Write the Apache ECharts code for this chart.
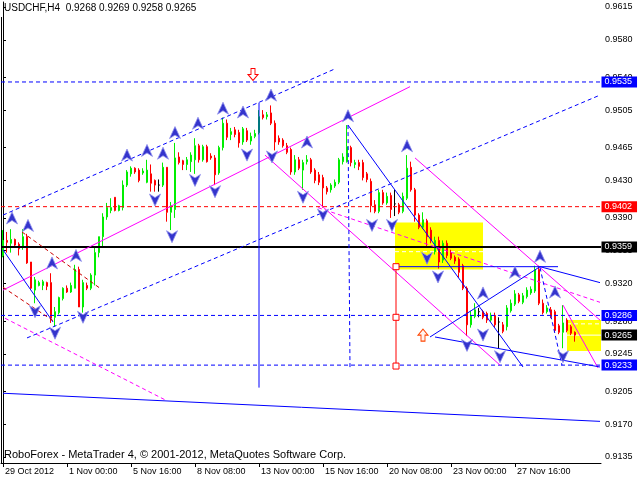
<!DOCTYPE html>
<html><head><meta charset="utf-8">
<script src="https://cdn.jsdelivr.net/npm/echarts@6/dist/echarts.min.js"></script>
<style>html,body{margin:0;padding:0;background:#fff}#c{width:640px;height:480px}</style>
</head><body><div id="c"></div>
<script>
const symbolName = 'USDCHF', timeframe = 'H4';
const copyrightText = 'RoboForex - MetaTrader 4, \u00a9 2001-2012, MetaQuotes Software Corp.';

const opens = [0.9350,0.9366,0.9363,0.9367,0.9362,0.9359,0.9370,0.9343,0.9313,0.9318,0.9318,0.9321,0.9321,0.9284,0.9289,0.9304,0.9315,0.9311,0.9315,0.9335,
0.9295,0.9318,0.9315,0.9329,0.9353,0.9370,0.9391,0.9398,0.9412,0.9398,0.9401,0.9425,0.9437,0.9443,0.9441,0.9438,0.9428,0.9437,0.9430,0.9425,
0.9425,0.9444,0.9396,0.9399,0.9455,0.9451,0.9447,0.9450,0.9452,0.9467,0.9452,0.9466,0.9456,0.9454,0.9438,0.9465,0.9491,0.9479,0.9484,0.9481,
0.9471,0.9483,0.9472,0.9477,0.9481,0.9500,0.9498,0.9502,0.9491,0.9475,0.9473,0.9467,0.9463,0.9439,0.9452,0.9441,0.9450,0.9452,0.9441,0.9436,
0.9433,0.9422,0.9420,0.9424,0.9428,0.9450,0.9450,0.9465,0.9447,0.9449,0.9449,0.9437,0.9429,0.9404,0.9397,0.9417,0.9406,0.9414,0.9405,0.9404,
0.9397,0.9411,0.9444,0.9420,0.9393,0.9380,0.9387,0.9377,0.9354,0.9366,0.9345,0.9363,0.9353,0.9348,0.9346,0.9339,0.9315,0.9276,0.9285,0.9290,
0.9290,0.9288,0.9281,0.9286,0.9279,0.9276,0.9274,0.9291,0.9298,0.9308,0.9300,0.9306,0.9310,0.9312,0.9335,0.9299,0.9290,0.9292,0.9290,0.9275,
0.9268,0.9281,0.9274,0.9268];
const closes = [0.9366,0.9364,0.9367,0.9361,0.9357,0.9370,0.9342,0.9315,0.9324,0.9321,0.9322,0.9317,0.9283,0.9290,0.9305,0.9315,0.9311,0.9318,0.9335,0.9295,
0.9321,0.9315,0.9329,0.9353,0.9370,0.9391,0.9401,0.9401,0.9398,0.9403,0.9425,0.9439,0.9443,0.9439,0.9430,0.9440,0.9441,0.9427,0.9425,0.9425,
0.9444,0.9396,0.9403,0.9454,0.9449,0.9447,0.9452,0.9457,0.9467,0.9452,0.9466,0.9450,0.9454,0.9436,0.9465,0.9491,0.9476,0.9482,0.9479,0.9470,
0.9485,0.9473,0.9477,0.9480,0.9498,0.9497,0.9500,0.9491,0.9471,0.9471,0.9467,0.9460,0.9439,0.9452,0.9443,0.9449,0.9452,0.9439,0.9430,0.9428,
0.9422,0.9418,0.9425,0.9428,0.9452,0.9455,0.9466,0.9449,0.9449,0.9445,0.9433,0.9431,0.9403,0.9397,0.9417,0.9406,0.9413,0.9399,0.9405,0.9396,
0.9413,0.9443,0.9420,0.9393,0.9380,0.9388,0.9370,0.9366,0.9366,0.9343,0.9363,0.9350,0.9347,0.9344,0.9332,0.9315,0.9276,0.9286,0.9292,0.9290,
0.9284,0.9281,0.9286,0.9276,0.9279,0.9269,0.9294,0.9299,0.9309,0.9301,0.9307,0.9313,0.9314,0.9335,0.9299,0.9289,0.9294,0.9285,0.9270,0.9268,
0.9278,0.9270,0.9267,0.9265];
const lows = [0.9348,0.9353,0.9353,0.9359,0.9350,0.9356,0.9341,0.9313,0.9299,0.9317,0.9313,0.9313,0.9278,0.9274,0.9287,0.9302,0.9310,0.9310,0.9315,0.9295,
0.9289,0.9313,0.9313,0.9318,0.9348,0.9359,0.9388,0.9395,0.9397,0.9397,0.9398,0.9423,0.9434,0.9437,0.9428,0.9436,0.9427,0.9418,0.9418,0.9418,
0.9423,0.9386,0.9377,0.9390,0.9447,0.9441,0.9441,0.9439,0.9437,0.9449,0.9450,0.9449,0.9452,0.9425,0.9436,0.9462,0.9473,0.9473,0.9476,0.9465,
0.9468,0.9471,0.9468,0.9475,0.9479,0.9495,0.9495,0.9489,0.9462,0.9468,0.9465,0.9458,0.9436,0.9436,0.9441,0.9420,0.9447,0.9437,0.9427,0.9425,
0.9401,0.9415,0.9417,0.9422,0.9426,0.9447,0.9449,0.9445,0.9443,0.9441,0.9430,0.9428,0.9396,0.9395,0.9395,0.9404,0.9404,0.9390,0.9392,0.9394,
0.9395,0.9409,0.9418,0.9386,0.9378,0.9378,0.9358,0.9363,0.9351,0.9336,0.9342,0.9347,0.9345,0.9341,0.9326,0.9313,0.9264,0.9273,0.9283,0.9284,
0.9282,0.9278,0.9279,0.9273,0.9251,0.9267,0.9270,0.9289,0.9296,0.9299,0.9298,0.9304,0.9308,0.9310,0.9297,0.9287,0.9288,0.9283,0.9268,0.9266,
0.9251,0.9268,0.9265,0.9258];
const highs = [0.9377,0.9375,0.9378,0.9368,0.9364,0.9378,0.9373,0.9343,0.9327,0.9323,0.9324,0.9322,0.9331,0.9295,0.9306,0.9316,0.9318,0.9321,0.9340,0.9338,
0.9324,0.9321,0.9331,0.9359,0.9370,0.9395,0.9406,0.9411,0.9412,0.9404,0.9430,0.9441,0.9445,0.9444,0.9443,0.9443,0.9452,0.9447,0.9431,0.9431,
0.9449,0.9444,0.9407,0.9470,0.9460,0.9452,0.9455,0.9460,0.9475,0.9469,0.9468,0.9468,0.9459,0.9457,0.9467,0.9497,0.9495,0.9486,0.9487,0.9484,
0.9487,0.9486,0.9481,0.9484,0.9505,0.9505,0.9503,0.9510,0.9494,0.9478,0.9475,0.9470,0.9465,0.9457,0.9455,0.9452,0.9457,0.9454,0.9443,0.9439,
0.9436,0.9424,0.9427,0.9431,0.9454,0.9459,0.9489,0.9467,0.9452,0.9452,0.9452,0.9439,0.9432,0.9409,0.9420,0.9420,0.9417,0.9417,0.9420,0.9406,
0.9417,0.9457,0.9450,0.9422,0.9395,0.9396,0.9389,0.9380,0.9370,0.9370,0.9366,0.9366,0.9356,0.9350,0.9348,0.9341,0.9317,0.9291,0.9299,0.9294,
0.9292,0.9290,0.9289,0.9289,0.9284,0.9279,0.9297,0.9303,0.9313,0.9310,0.9310,0.9316,0.9317,0.9339,0.9339,0.9303,0.9297,0.9295,0.9292,0.9277,
0.9297,0.9283,0.9276,0.9269];

const yTickValues = [0.9615,0.9580,0.9540,0.9505,0.9465,0.9430,0.9390,0.9355,0.9320,0.9280,0.9245,0.9205,0.9170,0.9135];
const xTickLabels = ['29 Oct 2012','1 Nov 00:00','5 Nov 16:00','8 Nov 08:00','13 Nov 00:00','15 Nov 16:00','20 Nov 08:00','23 Nov 00:00','27 Nov 16:00'];
const xTickEvery = 16;
const slotCount = 150;

const levelPrices = [0.9535, 0.9402, 0.9359, 0.9286, 0.9233];
const levelStyles = [
  {line:'#0000ff', type:[4,3], w:1, bg:'#0000ff'},
  {line:'#ff0000', type:[4,3], w:1, bg:'#ff0000'},
  {line:'#000000', type:'solid', w:2, bg:'#000000'},
  {line:'#0000ff', type:[4,3], w:1, bg:'#0000ff'},
  {line:'#0000ff', type:[4,3], w:1, bg:'#0000ff'}
];

// trend lines [bar1, price1, bar2, price2]
const magentaSolid = [[0,0.9313,101.75,0.9530],[65.5,0.9457,124.25,0.9233],[103,0.9454,149.25,0.9281],[140,0.9297,148.75,0.9230]];
const magentaDashed = [[0.5,0.9283,40.5,0.9196],[78.75,0.9401,149.25,0.9300]];
const blueSolid = [[0,0.9356,12.5,0.9279],[64,0.9513,64,0.9209],[0,0.9203,149.25,0.9173],[86.25,0.9489,130,0.9231],
  [98,0.9338,138.75,0.9338],[134.25,0.9338,149.25,0.9321],[106.75,0.9263,134.25,0.9338],[108,0.9263,149.25,0.9231]];
const blueDashed = [[0,0.9393,83,0.9549],[6,0.9262,149.25,0.9521],[86.25,0.9489,86.75,0.9230],[134.25,0.9337,139.75,0.9233]];
const redDashed = [[4.75,0.9375,24.25,0.9315],[0,0.9316,13,0.9279]];
const redSolid = [[98.25,0.9338,98.25,0.9232]];
const redMarkers = [[98.25,0.9338],[98.25,0.9284],[98.25,0.9232]];
const whiteDashed = [[98,0.9354,120,0.9354],[141,0.9277,149.5,0.9277]];
const whiteSolid = [[141,0.9265,149.5,0.9265]];
const yellowBoxes = [[98,0.9385,120,0.9335],[141,0.9281,150,0.9248]];

const upArrows = [[2.25,0.9390],[6.25,0.9382],[12.25,0.9342],[18.25,0.9350],[31,0.9457],[36,0.9462],[40,0.9459],[43,0.9481],[48.75,0.9491],
  [55,0.9507],[60,0.9503],[67,0.9521],[76,0.9471],[86.25,0.9499],[101,0.9467],[120,0.9310],[128,0.9332],[134.25,0.9349],[138,0.9311]];
const downArrows = [[8,0.9290],[13,0.9267],[20,0.9284],[38,0.9409],[42.25,0.9370],[48,0.9430],[53,0.9418],[61,0.9457],[67.25,0.9455],
  [75,0.9412],[80,0.9393],[92.25,0.9382],[97.25,0.9382],[106,0.9347],[108.75,0.9327],[116,0.9254],[120,0.9265],[124.25,0.9242],[140,0.9242]];
const hollowDown = [[62.5,0.9543]];
const hollowUp = [[105,0.9265]];

// categories: H4 slots, weekdays only
const months = ['Jan','Feb','Mar','Apr','May','Jun','Jul','Aug','Sep','Oct','Nov','Dec'];
const categories = [];
let t = Date.UTC(2012, 9, 29, 8);
while (categories.length < slotCount) {
  const d = new Date(t), wd = d.getUTCDay();
  if (wd !== 0 && wd !== 6) categories.push(d.getUTCDate() + ' ' + months[d.getUTCMonth()] + ' ' + String(d.getUTCHours()).padStart(2,'0') + ':00');
  t += 4 * 3600e3;
}

const FONT = 'Liberation Sans, Arial, sans-serif';
const last = opens.length - 1;
const titleText = symbolName + ',' + timeframe + '  ' + [opens[last], highs[last], lows[last], closes[last]].map(v => v.toFixed(4)).join(' ');
const showTick = (i) => i % xTickEvery === 0 && (i / xTickEvery) < xTickLabels.length;

const candleData = opens.map((o, i) => {
  const v = [o, closes[i], lows[i], highs[i]];
  if (o === closes[i]) return {value: v, itemStyle: {color:'#000', borderColor:'#000', color0:'#000', borderColor0:'#000'}};
  return v;
});

function segSeries(list, color, type, width, z) {
  return list.map(s => ({
    type:'line', xAxisIndex:1, yAxisIndex:0, data:[[s[0],s[1]],[s[2],s[3]]],
    symbol:'none', silent:true, animation:false, z: z || 4,
    lineStyle:{color, type, width}
  }));
}

const levelSegs = levelPrices.map((p, k) => ({
  type:'line', xAxisIndex:1, yAxisIndex:0, data:[[-0.5, p],[slotCount - 0.5, p]],
  symbol:'none', silent:true, animation:false, z:4,
  lineStyle:{color: levelStyles[k].line, type: levelStyles[k].type, width: levelStyles[k].w}
}));

// right-side price tags
const tagPrices = levelPrices.concat([closes[last]]);
const tagColors = levelStyles.map(s => s.bg).concat(['#000000']);
const tagSeries = {
  type:'scatter', xAxisIndex:1, yAxisIndex:0, z:10, zlevel:1, clip:false, silent:true, animation:false,
  symbol:'rect', symbolSize:1, itemStyle:{color:'rgba(0,0,0,0)', opacity:1},
  data: tagPrices.map((p, k) => ({
    value:[slotCount - 0.5, p],
    label:{show:true, position:'right', distance:0, formatter: p.toFixed(4), color:'#fff', backgroundColor: tagColors[k],
      padding:[1,5,0,3], fontSize:9, lineHeight:10, fontFamily:FONT, opacity:1}
  }))
};

const UP_PATH = 'path://M6,0 L12,12 L6,8.5 L0,12 Z';
const DOWN_PATH = 'path://M0,0 L6,3.5 L12,0 L6,12 Z';
const HOLLOW_DOWN = 'path://M3,0 L7,0 L7,6 L10,6 L5,12 L0,6 L3,6 Z';
const HOLLOW_UP = 'path://M5,0 L10,6 L7,6 L7,12 L3,12 L3,6 L0,6 Z';

const series = [
  { type:'custom', xAxisIndex:1, yAxisIndex:0, z:1, silent:true, clip:true, animation:false,
    data: yellowBoxes, encode:{x:[0,2], y:[1,3]},
    renderItem:(params, api) => {
      const a = api.coord([api.value(0), api.value(1)]), b = api.coord([api.value(2), api.value(3)]);
      return {type:'rect', shape:{x:a[0], y:a[1], width:b[0]-a[0], height:b[1]-a[1]}, style:{fill:'#ffff00'}};
    }
  },
  ...segSeries(whiteDashed, '#ffffff', [4,3], 1, 1.5),
  ...segSeries(whiteSolid, '#ffffff', 'solid', 1, 1.5),
  { type:'candlestick', xAxisIndex:0, yAxisIndex:0, z:3, barWidth:2, animation:false, silent:true,
    data: candleData,
    itemStyle:{color:'#00ee00', color0:'#ff0000', borderColor:'#00ee00', borderColor0:'#ff0000', borderWidth:1}
  },
  ...levelSegs,
  ...segSeries(magentaSolid, '#ff00ff', 'solid', 1),
  ...segSeries(magentaDashed, '#ff00ff', [4,3], 1),
  ...segSeries(blueSolid, '#0000ff', 'solid', 1),
  ...segSeries(blueDashed, '#0000ff', [4,3], 1),
  ...segSeries(redDashed, '#cc0000', [4,3], 1),
  ...segSeries(redSolid, '#ff0000', 'solid', 1),
  { type:'scatter', xAxisIndex:1, yAxisIndex:0, z:5, silent:true, animation:false, data: redMarkers,
    symbol:'rect', symbolSize:6, itemStyle:{color:'#ffffff', borderColor:'#ff0000', borderWidth:1, opacity:1}},
  { type:'scatter', xAxisIndex:1, yAxisIndex:0, z:6, silent:true, animation:false, data: upArrows,
    symbol: UP_PATH, symbolSize:[11,12], itemStyle:{color:'#3434cc', borderColor:'#9090ee', borderWidth:0.8, opacity:1}},
  { type:'scatter', xAxisIndex:1, yAxisIndex:0, z:6, silent:true, animation:false, data: downArrows,
    symbol: DOWN_PATH, symbolSize:[11,12], itemStyle:{color:'#3434cc', borderColor:'#9090ee', borderWidth:0.8, opacity:1}},
  { type:'scatter', xAxisIndex:1, yAxisIndex:0, z:6, silent:true, animation:false, data: hollowDown,
    symbol: HOLLOW_DOWN, symbolSize:[10,12], itemStyle:{color:'#ffffff', borderColor:'#ff0000', borderWidth:1, opacity:1}},
  { type:'scatter', xAxisIndex:1, yAxisIndex:0, z:6, silent:true, animation:false, data: hollowUp,
    symbol: HOLLOW_UP, symbolSize:[10,12], itemStyle:{color:'#fff4f0', borderColor:'#ff4400', borderWidth:1, opacity:1}},
  tagSeries
];

const chart = echarts.init(document.getElementById('c'));
chart.setOption({
  animation:false,
  backgroundColor:'#ffffff',
  grid:{left:1, right:39, top:2, bottom:17, show:false},
  xAxis:[
    { type:'category', data: categories, boundaryGap:true,
      axisLine:{show:true, lineStyle:{color:'#000', width:1}},
      axisTick:{show:true, interval:(i) => showTick(i), alignWithLabel:true, length:4, lineStyle:{color:'#000'}},
      axisLabel:{interval:(i) => showTick(i), formatter:(v, i) => xTickLabels[i / xTickEvery] || '',
        align:'left', color:'#000', fontSize:9, fontFamily:FONT, margin:4, padding:[0,0,0,2]},
      splitLine:{show:false}
    },
    { type:'value', min:-0.5, max:slotCount - 0.5, show:false }
  ],
  yAxis:{ type:'value', position:'right', min:0.91286, max:0.96203, scale:true,
    splitLine:{show:false},
    axisLine:{show:true, lineStyle:{color:'#000', width:1}},
    axisTick:{show:true, customValues: yTickValues, length:3, lineStyle:{color:'#000'}},
    axisLabel:{customValues: yTickValues, formatter:(v) => v.toFixed(4), color:'#000', fontSize:9, fontFamily:FONT, margin:4}
  },
  graphic:[
    {type:'line', shape:{x1:1.5, y1:17, x2:1.5, y2:463}, style:{stroke:'#000', lineWidth:1}, silent:true},
    {type:'text', left:4, top:3, style:{text:titleText, font:'10px ' + FONT, fill:'#000'}, silent:true},
    {type:'text', left:4, top:449, style:{text:copyrightText, font:'11px ' + FONT, fill:'#000'}, silent:true}
  ],
  series
});
</script>
</body></html>
